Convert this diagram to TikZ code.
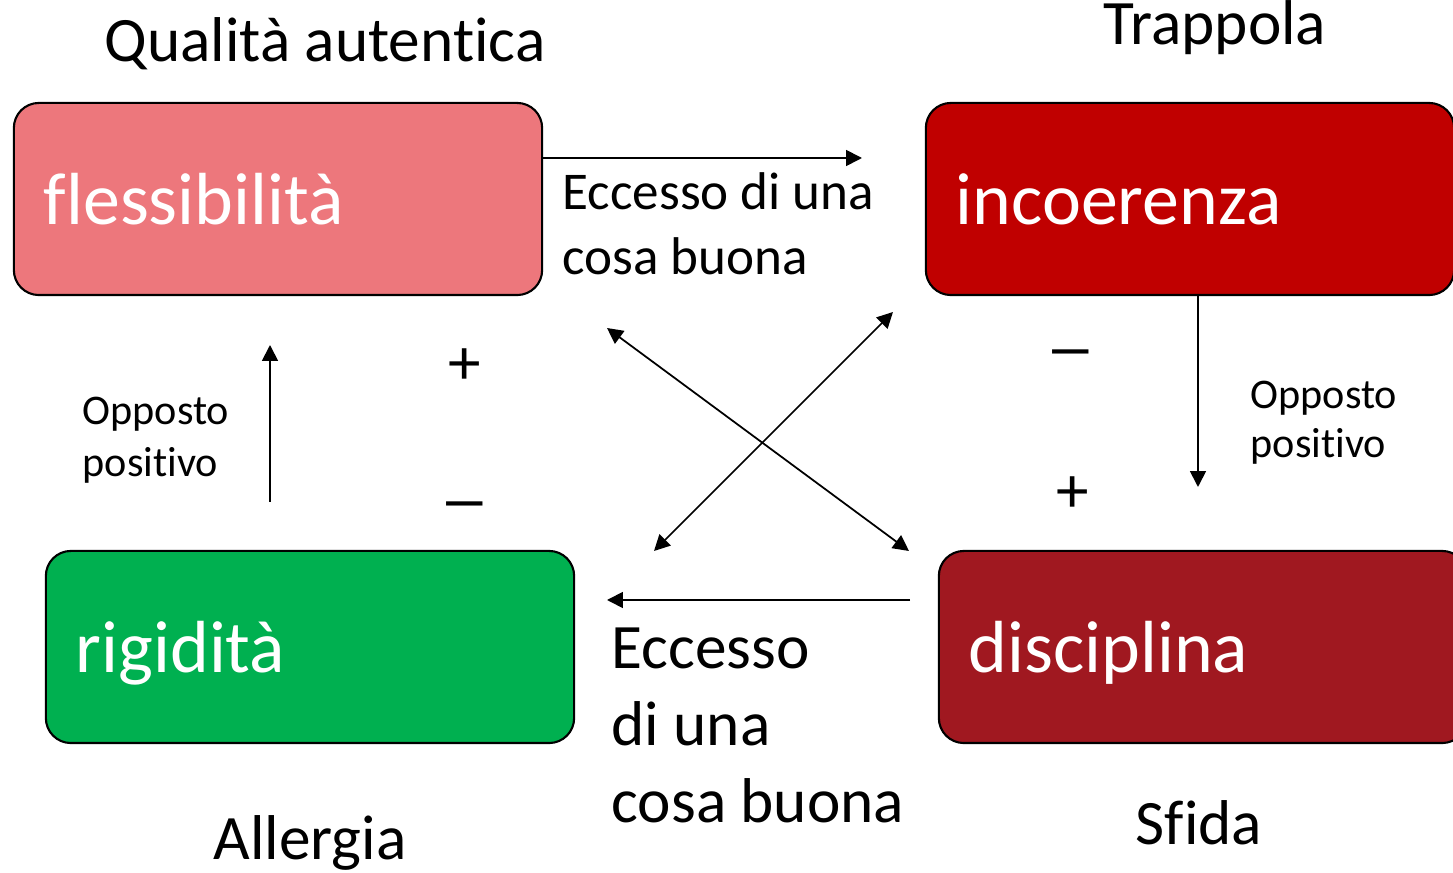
\documentclass[tikz,border=0pt]{standalone}
\usepackage{fontspec}
\setmainfont{Carlito}[Ligatures=NoCommon]
\usepackage{xcolor}
\usepackage{tikz}
\usetikzlibrary{positioning,arrows.meta}
\definecolor{flexcol}{HTML}{ED777C}
\definecolor{incocol}{HTML}{C00000}
\definecolor{rigicol}{HTML}{00B050}
\definecolor{disccol}{HTML}{A01820}
\newcommand{\wideminus}{\scalebox{1.5}[1]{−}}
\tikzset{
	box/.style={draw=black, line width=0.6pt, rounded corners=0.25cm, minimum height=1.92cm, text width=4.68cm, inner xsep=0.3cm, inner ysep=0pt, align=left, text=white, font=\fontsize{21}{25}\selectfont, text height=15.75pt, text depth=1pt},
	lab/.style={inner sep=0pt, font=\fontsize{18}{21}\selectfont},
	sign/.style={inner sep=0pt, font=\fontsize{18.5}{20}\selectfont},
	arr/.style={line width=0.5pt, -{Triangle[length=4.5pt,width=4.5pt]}},
	darr/.style={line width=0.5pt, {Triangle[length=4.5pt,width=4.5pt]}-{Triangle[length=4.5pt,width=4.5pt]}}
}
\begin{document}
\begin{tikzpicture}[x=0.01cm, y=-0.01cm]
	\useasboundingbox (0,0) rectangle (1453,873);
	\node[box, fill=flexcol] (flex) at (278,199) {flessibilità};
	\node[box, fill=incocol] (inco) at (1190,199) {incoerenza};
	\node[box, fill=rigicol] (rigi) at (310,647) {rigidità};
	\node[box, fill=disccol] (disc) at (1203,647) {disciplina};
	\node[lab, anchor=base] (qual) at (325,62) {Qualità autentica};
	\node[lab, anchor=base] (trap) at (1215,45) {Trappola};
	\node[lab, anchor=base] (alle) at (310,860) {Allergia};
	\node[lab, anchor=base] (sfid) at (1199,845) {Sfida};
	\node[anchor=base west, align=left, inner sep=0pt, font=\fontsize{15.1}{18.5}\selectfont] (ecc1) at (562,275) {Eccesso di una\\cosa buona};
	\node[anchor=base west, align=left, inner sep=0pt, font=\fontsize{18}{22}\selectfont] (ecc2) at (611,823) {Eccesso\\di una\\cosa buona};
	\node[anchor=base west, align=left, inner sep=0pt, font=\fontsize{12}{14.8}\selectfont] (opp1) at (82,477) {Opposto\\positivo};
	\node[anchor=base west, align=left, inner sep=0pt, font=\fontsize{12}{14.2}\selectfont] (opp2) at (1250,458) {Opposto\\positivo};
	\node[sign] (pl1) at (465,367) {+};
	\node[sign] (mi1) at (465,513) {\wideminus};
	\node[sign] (mi2) at (1071,361) {\wideminus};
	\node[sign] (pl2) at (1073,495) {+};
	\coordinate (p1) at (862,158);
	\coordinate (p2) at (910,600);
	\coordinate (p3) at (607,600);
	\coordinate (p4) at (270,502);
	\coordinate (p5) at (270,345);
	\coordinate (p6) at (1198,487);
	\coordinate (p7) at (607,328);
	\coordinate (p8) at (909,551);
	\coordinate (p9) at (893,312);
	\coordinate (p10) at (654,551);
	\draw[arr] (flex.east |- p1) -- (p1);
	\draw[arr] (p2) -- (p3);
	\draw[arr] (p4) -- (p5);
	\draw[arr] (inco.south -| p6) -- (p6);
	\draw[darr] (p7) -- (p8);
	\draw[darr] (p9) -- (p10);
\end{tikzpicture}
\end{document}
